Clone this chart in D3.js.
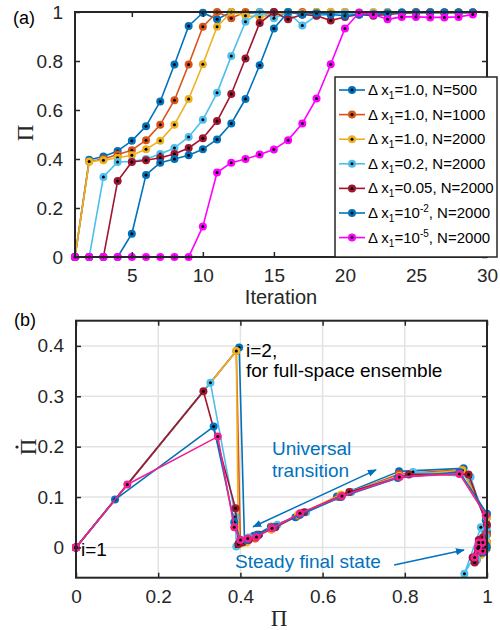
<!DOCTYPE html>
<html>
<head>
<meta charset="utf-8">
<script src="https://cdn.jsdelivr.net/npm/d3@7"></script>
<style>
  html, body { margin: 0; padding: 0; background: #fff; }
  svg { display: block; font-family: "Liberation Sans", Arial, sans-serif; }
</style>
</head>
<body>
<svg id="chart" width="500" height="630"></svg>
<script>
// ---------------- data ----------------
const iterations = d3.range(1, 30); // 1..29
const seriesNames = [
  ["1.0", null, "500"],
  ["1.0", null, "1000"],
  ["1.0", null, "2000"],
  ["0.2", null, "2000"],
  ["0.05", null, "2000"],
  ["10", "-2", "2000"],
  ["10", "-5", "2000"]
];
const colorsTop = ["#0072BD", "#D95319", "#EDB120", "#4DBEEE", "#A2142F", "#0072BD", "#FF00FF"];
const colorsBottom = ["#0072BD", "#D95319", "#EDB120", "#4DBEEE", "#A2142F", "#0072BD", "#F5208F"];

const piDx1N500 = [0, 0.397, 0.41, 0.433, 0.474, 0.534, 0.635, 0.786, 0.943, 0.997, 0.97, 1.0, 0.995, 0.998, 1.0, 1.0, 0.99, 1.0, 0.995, 0.995, 0.99, 0.99, 0.995, 0.997, 0.998, 0.998, 0.998, 0.998, 0.998];
const piDx1N1000 = [0, 0.39, 0.40, 0.418, 0.436, 0.477, 0.54, 0.64, 0.786, 0.94, 1.0, 0.975, 1.0, 1.0, 0.99, 0.995, 1.0, 0.99, 1.0, 1.0, 0.998, 0.995, 1.0, 0.998, 1.0, 1.0, 0.998, 0.998, 0.998];
const piDx1N2000 = [0, 0.39, 0.395, 0.405, 0.415, 0.44, 0.475, 0.54, 0.645, 0.787, 0.94, 1.0, 0.985, 0.98, 0.99, 1.0, 0.995, 1.0, 1.0, 1.0, 0.995, 1.0, 1.0, 0.998, 0.998, 0.998, 0.998, 0.998, 0.998];
const piDx02 = [0, 0, 0.327, 0.388, 0.39, 0.40, 0.42, 0.445, 0.49, 0.56, 0.67, 0.82, 0.96, 1.0, 0.975, 0.997, 0.945, 0.985, 0.99, 0.995, 0.99, 0.995, 0.998, 0.998, 0.998, 0.998, 0.998, 0.998, 0.998];
const piDx005 = [0, 0, 0, 0.31, 0.388, 0.395, 0.405, 0.42, 0.445, 0.485, 0.555, 0.665, 0.81, 0.955, 1.0, 0.97, 0.99, 0.985, 0.965, 0.98, 0.99, 0.985, 0.99, 0.995, 0.998, 0.998, 0.998, 0.998, 0.998];
const piDx1em2 = [0, 0, 0, 0, 0.095, 0.335, 0.385, 0.40, 0.415, 0.44, 0.48, 0.545, 0.645, 0.783, 0.933, 1.0, 0.99, 0.995, 0.99, 0.985, 0.99, 0.99, 0.995, 0.998, 0.998, 0.998, 0.998, 0.998, 0.998];
const piDx1em5 = [0, 0, 0, 0, 0, 0, 0, 0, 0, 0.125, 0.345, 0.385, 0.40, 0.418, 0.439, 0.477, 0.545, 0.647, 0.787, 0.933, 0.997, 0.99, 0.97, 0.98, 0.98, 0.978, 0.978, 0.98, 0.99];
const seriesValues = [piDx1N500, piDx1N1000, piDx1N2000, piDx02, piDx005, piDx1em2, piDx1em5];

const topXTicks = [5, 10, 15, 20, 25, 30];
const topYTicks = [0, 0.2, 0.4, 0.6, 0.8, 1];
const botXTicks = [0, 0.2, 0.4, 0.6, 0.8, 1];
const botYTicks = [0, 0.1, 0.2, 0.3, 0.4];

// ---------------- setup ----------------
const svg = d3.select("#chart");
const AX = "#262626";
const FS = 19;
const SANS = "'Liberation Sans', Arial, sans-serif";
const SERIF = "'Liberation Serif', 'Times New Roman', serif";

function fmt(v) { return v === 0 ? "0" : (v === 1 ? "1" : String(v)); }

function drawGrid(g, x, y, xt, yt) {
  const [x0, x1] = x.range();
  const [y0, y1] = y.range();
  g.append("g").selectAll("line").data(xt).join("line")
    .attr("x1", d => x(d)).attr("x2", d => x(d)).attr("y1", y0).attr("y2", y1)
    .attr("stroke", "#e3e3e3").attr("stroke-width", 1.5);
  g.append("g").selectAll("line").data(yt).join("line")
    .attr("x1", x0).attr("x2", x1).attr("y1", d => y(d)).attr("y2", d => y(d))
    .attr("stroke", "#e3e3e3").attr("stroke-width", 1.5);
}

function drawAxes(g, x, y, xt, yt) {
  const [x0, x1] = x.range();
  const [y0, y1] = y.range();
  const tl = 5;
  const bx = g.append("g").attr("transform", `translate(0,${y0})`)
    .call(d3.axisBottom(x).tickValues(xt).tickSizeInner(-tl).tickSizeOuter(0).tickPadding(12).tickFormat(fmt));
  const tx = g.append("g").attr("transform", `translate(0,${y1})`)
    .call(d3.axisTop(x).tickValues(xt).tickSizeInner(-tl).tickSizeOuter(0).tickFormat(""));
  const ly = g.append("g").attr("transform", `translate(${x0},0)`)
    .call(d3.axisLeft(y).tickValues(yt).tickSizeInner(-tl).tickSizeOuter(0).tickPadding(12).tickFormat(fmt));
  const ry = g.append("g").attr("transform", `translate(${x1},0)`)
    .call(d3.axisRight(y).tickValues(yt).tickSizeInner(-tl).tickSizeOuter(0).tickFormat(""));
  [bx, tx, ly, ry].forEach(a => {
    a.select(".domain").remove();
    a.attr("font-family", null).attr("font-size", null);
    a.selectAll(".tick line").attr("stroke", AX).attr("stroke-width", 1.5);
    a.selectAll(".tick text").attr("fill", AX)
      .style("font-size", FS + "px").style("font-family", SANS);
  });
  g.append("rect").attr("x", x0).attr("y", y1).attr("width", x1 - x0).attr("height", y0 - y1)
    .attr("fill", "none").attr("stroke", AX).attr("stroke-width", 2);
}

function drawSeries(g, pts, color) {
  const line = d3.line().x(d => d[0]).y(d => d[1]);
  g.append("path").attr("d", line(pts)).attr("fill", "none")
    .attr("stroke", color).attr("stroke-width", 1.6).attr("stroke-linejoin", "round");
  g.append("g").selectAll("circle").data(pts).join("circle")
    .attr("cx", d => d[0]).attr("cy", d => d[1]).attr("r", 4).attr("fill", color);
  g.append("g").selectAll("circle").data(pts).join("circle")
    .attr("cx", d => d[0]).attr("cy", d => d[1]).attr("r", 1.5).attr("fill", "#000");
}

function label(x, y, txt, opts = {}) {
  return svg.append("text").attr("x", x).attr("y", y)
    .attr("text-anchor", opts.anchor || "start")
    .attr("fill", opts.fill || "#000")
    .style("font-size", (opts.size || FS) + "px")
    .style("font-family", opts.family || SANS)
    .text(txt);
}

// ---------------- panel (a) ----------------
const xa = d3.scaleLinear().domain([1, 30]).range([75, 487]);
const ya = d3.scaleLinear().domain([0, 1]).range([257, 12]);
const ga = svg.append("g");
const dataA = ga.append("g");
seriesValues.forEach((vals, k) => {
  const pts = vals.map((v, i) => [xa(iterations[i]), ya(v)]);
  drawSeries(dataA, pts, colorsTop[k]);
});
drawAxes(ga, xa, ya, topXTicks, topYTicks);

label(13, 24, "(a)", { size: 18 });
label(281, 304, "Iteration", { size: 20, anchor: "middle", fill: AX });
svg.append("text").attr("transform", "translate(26,133) rotate(-90)")
  .attr("y", 7).attr("text-anchor", "middle").attr("fill", AX)
  .style("font-family", SERIF).style("font-size", "23px").text("Π");

// legend
const lg = svg.append("g");
lg.append("rect").attr("x", 335).attr("y", 77).attr("width", 162).attr("height", 180)
  .attr("fill", "#fff").attr("stroke", AX).attr("stroke-width", 1.5);
seriesNames.forEach((nm, k) => {
  const yy = 90 + k * 24.6;
  lg.append("line").attr("x1", 339).attr("x2", 365).attr("y1", yy).attr("y2", yy)
    .attr("stroke", colorsTop[k]).attr("stroke-width", 1.6);
  lg.append("circle").attr("cx", 352).attr("cy", yy).attr("r", 4).attr("fill", colorsTop[k]);
  lg.append("circle").attr("cx", 352).attr("cy", yy).attr("r", 1.5).attr("fill", "#000");
  const t = lg.append("text").attr("x", 368).attr("y", yy + 5).attr("fill", "#000")
    .style("font-size", "15px").style("font-family", SANS);
  t.append("tspan").text("Δ x");
  t.append("tspan").style("font-size", "10px").attr("dy", 4).text("1");
  if (nm[1] === null) {
    t.append("tspan").attr("dy", -4).text("=" + nm[0] + ", N=" + nm[2]);
  } else {
    t.append("tspan").attr("dy", -4).text("=" + nm[0]);
    t.append("tspan").style("font-size", "10px").attr("dy", -6).text(nm[1]);
    t.append("tspan").attr("dy", 6).text(", N=" + nm[2]);
  }
});

// ---------------- panel (b) ----------------
const xb = d3.scaleLinear().domain([0, 1]).range([76, 487]);
const yb = d3.scaleLinear().domain([-0.06, 0.45]).range([577.7, 320.7]);
const gb = svg.append("g");
drawGrid(gb, xb, yb, botXTicks, botYTicks);
const dataB = gb.append("g");
seriesValues.forEach((vals, k) => {
  const pts = vals.map((v, i) => [xb(v), yb(i === 0 ? 0 : v - vals[i - 1])]);
  drawSeries(dataB, pts, colorsBottom[k]);
});
drawAxes(gb, xb, yb, botXTicks, botYTicks);

label(14, 326, "(b)", { size: 18 });
label(279, 626, "Π", { size: 23, anchor: "middle", fill: AX, family: SERIF });
const yl = svg.append("g").attr("transform", "translate(28,447) rotate(-90)");
yl.append("text").attr("y", 8).attr("text-anchor", "middle").attr("fill", AX)
  .style("font-family", SERIF).style("font-size", "23px").text("Π");
yl.append("circle").attr("cx", 0).attr("cy", -11).attr("r", 1.6).attr("fill", AX);

// annotations
const BLUE = "#0072BD";
label(81, 556, "i=1");
label(246, 357, "i=2,");
label(246, 377, "for full-space ensemble");
label(272, 455, "Universal", { fill: BLUE });
label(272, 477, "transition", { fill: BLUE });
label(235, 568, "Steady final state", { fill: BLUE });

const defs = svg.append("defs");
defs.append("marker").attr("id", "ah").attr("viewBox", "0 0 10 10").attr("refX", 9).attr("refY", 5)
  .attr("markerWidth", 9).attr("markerHeight", 9).attr("markerUnits", "userSpaceOnUse")
  .attr("orient", "auto-start-reverse")
  .append("path").attr("d", "M0,1 L10,5 L0,9 Z").attr("fill", BLUE);

svg.append("line")
  .attr("x1", xb(0.431)).attr("y1", yb(0.041)).attr("x2", xb(0.730)).attr("y2", yb(0.154))
  .attr("stroke", BLUE).attr("stroke-width", 1.5)
  .attr("marker-start", "url(#ah)").attr("marker-end", "url(#ah)");
svg.append("line")
  .attr("x1", xb(0.774)).attr("y1", yb(-0.035)).attr("x2", xb(0.944)).attr("y2", yb(-0.005))
  .attr("stroke", BLUE).attr("stroke-width", 1.5)
  .attr("marker-end", "url(#ah)");
</script>
</body>
</html>
